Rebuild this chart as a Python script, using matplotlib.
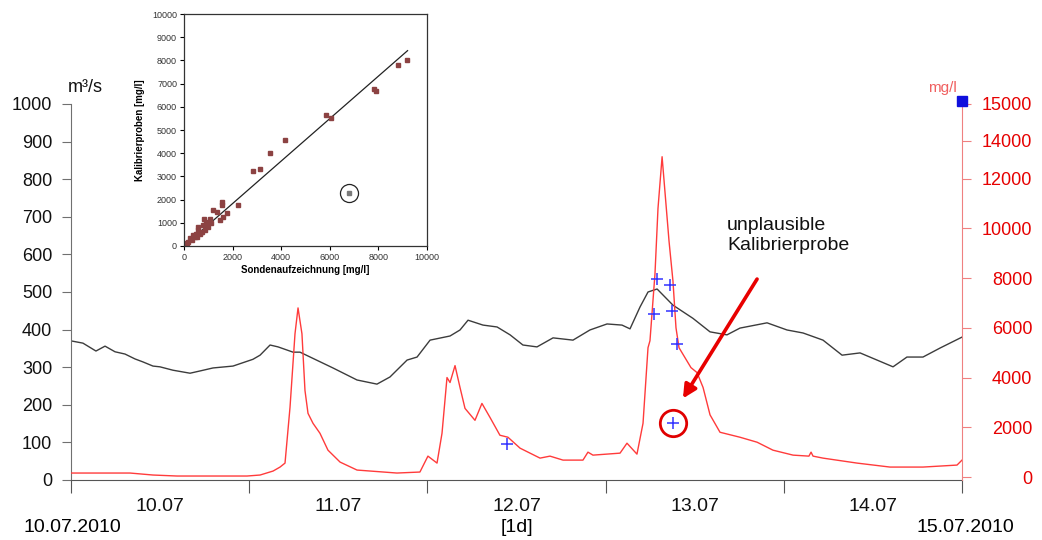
"""
Abfluss und Schwebstoffkonzentration 10.07.-15.07.2010 mit Kalibrierproben,
Inset: Kalibrierproben gegen Sondenaufzeichnung.
"""
import numpy as np, matplotlib
matplotlib.use("Agg")
import matplotlib.pyplot as plt

plt.rcParams["font.family"] = ["Liberation Sans", "DejaVu Sans"]
W, H = 1042, 540

# Abfluss [m3/s], Zeit in Tagen ab 10.07.2010 00:00
q_day = [0.0, 0.067, 0.140, 0.191, 0.247, 0.303, 0.359, 0.404, 0.460, 0.499,
         0.572, 0.668, 0.724, 0.797, 0.909, 1.021, 1.061, 1.117, 1.162, 1.246,
         1.285, 1.470, 1.605, 1.717, 1.790, 1.886, 1.942, 2.015, 2.127, 2.183,
         2.228, 2.312, 2.391, 2.464, 2.536, 2.615, 2.705, 2.817, 2.912, 3.008,
         3.092, 3.137, 3.193, 3.238, 3.289, 3.378, 3.490, 3.586, 3.681, 3.754,
         3.906, 4.018, 4.108, 4.220, 4.327, 4.428, 4.523, 4.613, 4.691, 4.781,
         4.877, 5.000]
q_val = [370, 364, 343, 356, 341, 335, 322, 314, 303, 301,
         292, 284, 290, 298, 303, 321, 332, 359, 354, 340,
         340, 298, 266, 255, 274, 319, 327, 372, 383, 399,
         425, 412, 407, 386, 359, 354, 378, 372, 399, 415,
         412, 402, 460, 500, 508, 465, 430, 394, 386, 404,
         418, 399, 391, 372, 332, 338, 319, 301, 327, 327,
         351, 380]

# Sondenaufzeichnung Schwebstoff [mg/l]
c_day = [0.0, 0.123, 0.331, 0.460, 0.595, 0.988, 1.061, 1.134, 1.173, 1.201,
         1.229, 1.257, 1.274, 1.296, 1.313, 1.330, 1.358, 1.397, 1.442, 1.510,
         1.605, 1.829, 1.958, 2.003, 2.054, 2.082, 2.110, 2.127, 2.155, 2.183,
         2.211, 2.267, 2.306, 2.351, 2.407, 2.452, 2.520, 2.632, 2.688, 2.761,
         2.873, 2.901, 2.929, 3.081, 3.120, 3.176, 3.210, 3.238, 3.249, 3.277,
         3.294, 3.317, 3.333, 3.356, 3.378, 3.395, 3.412, 3.479, 3.513, 3.547,
         3.586, 3.642, 3.754, 3.850, 3.939, 4.052, 4.141, 4.153, 4.164, 4.220,
         4.411, 4.596, 4.781, 4.972, 5.000]
c_val = [160, 160, 160, 80, 40, 40, 80, 240, 400, 560,
         2800, 5760, 6800, 5760, 3480, 2560, 2160, 1760, 1080, 600,
         280, 160, 200, 840, 560, 1760, 4000, 3800, 4480, 3600,
         2760, 2280, 2960, 2400, 1680, 1600, 1160, 760, 840, 680,
         680, 1000, 880, 960, 1360, 920, 2160, 5200, 5480, 8160,
         10800, 12880, 11480, 9480, 7880, 6000, 5200, 4400, 4200, 3600,
         2500, 1800, 1600, 1400, 1080, 880, 840, 1000, 840, 760,
         560, 400, 400, 480, 680]

# Kalibrierproben [mg/l]
probe_day = [3.289, 3.361, 3.272, 3.372, 3.400, 3.378, 2.447]
probe_val = [7960, 7720, 6560, 6680, 5360, 2160, 1320]
bad_day, bad_val = 3.378, 2160

# rechte Achse: Tickpositionen wie im Original
r_tick_pos = [0, 2000, 4000, 6000, 8000, 10000, 12000, 13520, 15000]
r_tick_lab = ["0", "2000", "4000", "6000", "8000", "10000", "12000", "14000", "15000"]
day_labels = ["10.07", "11.07", "12.07", "13.07", "14.07"]

# Inset: Sonde vs. Kalibrierprobe
sonde = [2850, 3130, 3540, 4160, 5840, 6040, 7830, 7900, 8820, 9190,
         1210, 1340, 1580, 1580, 1620, 1480, 1760, 2240, 1070, 960,
         820, 770, 1000, 590, 590, 730, 860, 380, 450, 250,
         520, 180, 110, 320, 660, 480, 70, 900, 1100, 640]
kalib = [3230, 3320, 4010, 4560, 5650, 5500, 6780, 6670, 7790, 8020,
         1550, 1480, 1880, 1770, 1240, 1120, 1440, 1750, 1150, 1050,
         1150, 900, 830, 830, 690, 620, 690, 470, 400, 330,
         400, 190, 110, 260, 520, 520, 50, 980, 1000, 560]
out_x, out_y = 6800, 2300
fit_x = [0, 9200]
fit_y = [0, 8420]

fig = plt.figure(figsize=(W/100, H/100), dpi=100)
ax = fig.add_axes([71/W, 1-480/H, 891/W, 376/H])
ax2 = ax.twinx()

ax.plot(q_day, q_val, color="#3c3c3c", lw=1.0)
ax.set_xlim(0, 5); ax.set_ylim(0, 1000)
ax2.plot(c_day, c_val, color="#ff3b3b", lw=1.0)
ax2.set_ylim(-120, 15000)

ax2.plot(probe_day, probe_val, "+", color="#3333ff", ms=9, mew=1.1)
ax2.plot([bad_day], [bad_val], "o", mfc="none", mec="#e00000", ms=19, mew=2.0)
ax2.plot([5.0], [15120], "s", color="#1010dd", ms=7, clip_on=False, zorder=5)
ax2.annotate("", xy=(3.434, 3160), xytext=(3.850, 7960),
             arrowprops=dict(arrowstyle="-|>", color="#e80000", lw=2.6,
                             mutation_scale=20, shrinkA=0, shrinkB=0))
ax2.text(3.681, 9700, "unplausible\nKalibrierprobe", fontsize=14, va="center",
         ha="left", linespacing=1.25, color="#111111")

# Achsen
for s in ["top", "right"]:
    ax.spines[s].set_visible(False)
for s in ["top", "left", "bottom"]:
    ax2.spines[s].set_visible(False)
ax.spines["left"].set_color("#707070")
ax.spines["bottom"].set_color("#555555")
ax2.spines["right"].set_color("#ef8080")

ax.set_yticks(np.arange(0, 1001, 100))
ax.tick_params(axis="y", direction="out", length=6.5, color="#707070",
               labelsize=13, pad=7, labelcolor="#111111")
ax.set_xticks(range(6)); ax.set_xticklabels([])
ax.set_xticks(np.arange(0.5, 5, 1), minor=True)
ax.set_xticklabels(day_labels, minor=True)
ax.tick_params(axis="x", which="major", direction="out", length=9, color="#555555")
ax.tick_params(axis="x", which="minor", length=0, pad=13, labelsize=14,
               labelcolor="#111111")

ax2.set_yticks(r_tick_pos); ax2.set_yticklabels(r_tick_lab)
ax2.tick_params(axis="y", direction="out", length=6.5, color="#ef8080",
                labelcolor="#e60000", labelsize=13, pad=44)
for t in ax2.get_yticklabels():
    t.set_ha("right")

fig.text(68/W, 1-88/H, "m³/s", fontsize=13, ha="left", va="center", color="#111111")
fig.text(957/W, 1-88/H, "mg/l", fontsize=11, ha="right", va="center", color="#f06060")
fig.text(72/W, 1-528/H, "10.07.2010", fontsize=14, ha="center", va="center")
fig.text(517/W, 1-528/H, "[1d]", fontsize=14, ha="center", va="center")
fig.text(965/W, 1-528/H, "15.07.2010", fontsize=14, ha="center", va="center")

# Inset
axi = fig.add_axes([184/W, 1-246/H, 243/W, 232/H])
axi.plot(fit_x, fit_y, color="#222222", lw=0.9)
axi.plot(sonde, kalib, "s", color="#8c4242", ms=3)
axi.plot([out_x], [out_y], "s", color="#7a7a7a", ms=3)
axi.plot([out_x], [out_y], "o", mfc="none", mec="#222222", ms=13, mew=0.9)
axi.set_xlim(0, 10000); axi.set_ylim(0, 10000)
axi.set_xticks(np.arange(0, 10001, 2000))
axi.set_yticks(np.arange(0, 10001, 1000))
axi.tick_params(labelsize=6.5, length=3, labelcolor="#333333", pad=2)
for s in axi.spines.values():
    s.set_color("#333333"); s.set_linewidth(0.9)
axi.set_xlabel("Sondenaufzeichnung [mg/l]", fontsize=7, fontweight="bold", labelpad=2)
axi.set_ylabel("Kalibrierproben [mg/l]", fontsize=7, fontweight="bold", labelpad=5)

fig.savefig("out.png", dpi=100)
